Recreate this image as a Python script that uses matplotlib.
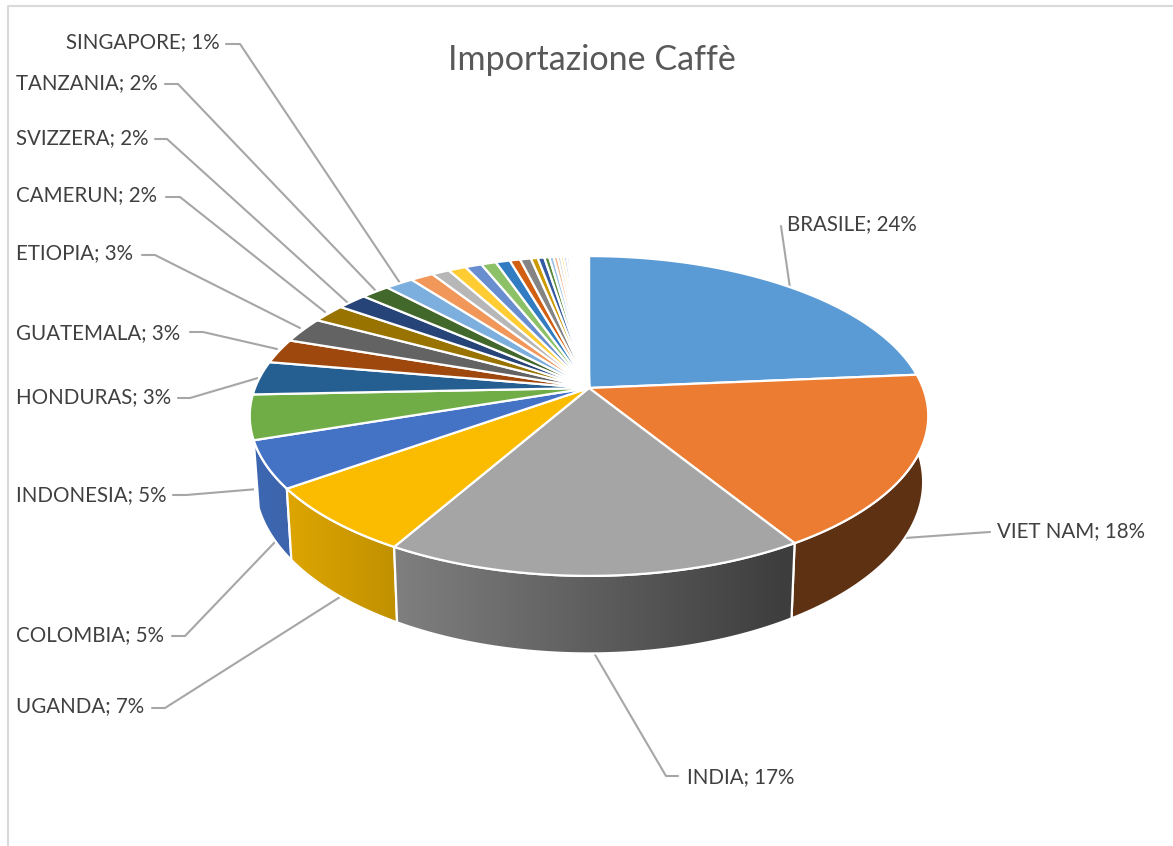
import numpy as np
import matplotlib
matplotlib.use('Agg')
import matplotlib.pyplot as plt
from matplotlib.colors import to_rgb
from matplotlib.patches import Polygon

plt.rcParams['font.family'] = ['Lato', 'DejaVu Sans']

TITLE = 'Importazione Caffè'

# share of each slice in %
values = [23.6, 17.6, 17.0, 6.85, 4.75, 4.5, 3.4, 2.5, 2.6, 1.9, 1.7, 1.6, 1.6,
          1.3, 1.0, 1.0, 0.93, 0.84, 0.8, 0.59, 0.61, 0.39, 0.37, 0.28, 0.25, 0.22, 0.18, 0.17,
          0.16, 0.14, 0.12, 0.11, 0.1, 0.09, 0.08, 0.07, 0.07, 0.06, 0.06, 0.05, 0.05,
          0.04, 0.04, 0.03, 0.03, 0.03, 0.02, 0.02, 0.02, 0.02]
labels = ['BRASILE; 24%', 'VIET NAM; 18%', 'INDIA; 17%', 'UGANDA; 7%', 'COLOMBIA; 5%',
          'INDONESIA; 5%', 'HONDURAS; 3%', 'GUATEMALA; 3%', 'ETIOPIA; 3%', 'CAMERUN; 2%',
          'SVIZZERA; 2%', 'TANZANIA; 2%', 'SINGAPORE; 1%']
colors = ['#5B9BD5', '#EB7C31', '#A5A5A5', '#FBBC00', '#4472C4', '#70AD47',
          '#255E91', '#9E480E', '#636363', '#997300', '#264478', '#43682B',
          '#7CAFDD', '#F1975A', '#B7B7B7', '#FFCD33', '#698ED0', '#8CC168',
          '#327DC2', '#D26012', '#848484', '#CC9A00', '#335AA1', '#5A8B39',
          '#9DC3E6', '#F4B183', '#C9C9C9', '#FFD966', '#8FAADC', '#A9D18E',
          '#BDD7EE', '#F8CBAD', '#DBDBDB', '#FFE699', '#B4C7E7', '#C5E0B4']

# label anchor (left x, centre y) and leader line, all in pixels
label_pos = [(787, 224), (997, 531), (687, 777), (16, 706), (16, 635), (16, 495), (16, 397),
             (16, 333), (16, 253), (16, 195), (16, 138), (16, 83), (66, 42)]
leaders = [[(781, 226), (790, 288)],
           [(990, 532), (975, 533), (905, 538)],
           [(678, 776), (666, 776), (594, 653)],
           [(152, 708), (165, 708), (340, 597)],
           [(172, 636), (185, 636), (275, 542)],
           [(173, 495), (186, 495), (258, 489)],
           [(178, 398), (190, 398), (258, 378)],
           [(190, 332), (203, 332), (277, 349)],
           [(142, 255), (155, 255), (300, 328)],
           [(166, 197), (180, 197), (325, 312)],
           [(155, 139), (167, 139), (348, 303)],
           [(165, 84), (178, 84), (375, 290)],
           [(226, 44), (240, 44), (400, 283)]]

CX, CY = 589, 388      # apex of the pie
AX, AY = 334, 155      # projected radii
PERSP = 0.175          # perspective strength
DEPTH = 64             # thickness of the side
SHRINK = 0.985         # lower rim is a bit narrower


def rim(theta, lower=False):
    # theta clockwise from 12 o'clock, radians
    u, v = np.sin(theta), np.cos(theta)
    w = 1 + PERSP * v
    x = AX * u / w
    y = -AY * v / w
    if lower:
        return CX + SHRINK * x, CY + y + DEPTH / w
    return CX + x, CY + y


def shade(x):
    return np.clip(0.77 - (x - 395) * 0.40 / 394, 0.37, 0.9)


def do_plot():
    fig = plt.figure(figsize=(11.73, 8.46), dpi=100)
    ax = fig.add_axes([0, 0, 1, 1])
    ax.axis('off')

    fracs = np.array(values) / sum(values)
    edges = np.concatenate([[0], np.cumsum(fracs)]) * 2 * np.pi
    cols = [colors[i] if i < len(colors) else '#F4F4F4' for i in range(len(values))]

    # side faces, back to front
    idx = [i for i in range(len(values)) if 80 < np.degrees(edges[i + 1]) and np.degrees(edges[i]) < 275]
    idx.sort(key=lambda i: -abs(np.degrees(edges[i] + edges[i + 1]) / 2 - 180))
    for z, i in enumerate(idx):
        t = np.linspace(edges[i], edges[i + 1], 60)
        xt, yt = rim(t)
        xb, yb = rim(t, lower=True)
        pts = np.column_stack([np.r_[xt, xb[::-1]], np.r_[yt, yb[::-1]]])
        x0, x1 = pts[:, 0].min(), pts[:, 0].max()
        y0, y1 = pts[:, 1].min(), pts[:, 1].max()
        f = shade(np.linspace(x0, x1, 100))
        if i == 1:  # the right hand side face is flat in the reference
            f = np.full(100, 0.40)
        grad = f[None, :, None] * np.array(to_rgb(cols[i]))
        im = ax.imshow(grad, extent=[x0, x1, y1, y0], aspect='auto', zorder=2 + z, interpolation='bilinear')
        poly = Polygon(pts, closed=True, facecolor='none', edgecolor='white', lw=1.6, zorder=2.5 + z)
        ax.add_patch(poly)
        im.set_clip_path(poly)

    # top face
    for i in range(len(values)):
        t = np.linspace(edges[i], edges[i + 1], 80)
        xt, yt = rim(t)
        pts = np.column_stack([np.r_[CX, xt], np.r_[CY, yt]])
        ax.add_patch(Polygon(pts, closed=True, facecolor=cols[i], edgecolor='white', lw=1.6, zorder=100))

    # labels and leaders
    for txt, (lx, ly), line in zip(labels, label_pos, leaders):
        xs, ys = zip(*line)
        ax.plot(xs, ys, color='#A6A6A6', lw=1.5, zorder=1, solid_capstyle='round')
        ax.text(lx, ly, txt, ha='left', va='center', fontsize=14.8, color='#404040', zorder=200)

    ax.text(592, 60, TITLE, ha='center', va='center', fontsize=24.6, color='#595959', zorder=200)

    # chart frame, cut at the right and at the bottom
    ax.plot([8, 8, 1173], [846, 6, 6], color='#D9D9D9', lw=1.5, zorder=1)

    ax.set_xlim(0, 1173)
    ax.set_ylim(846, 0)
    fig.savefig('out.png', dpi=100, facecolor='white')


if __name__ == '__main__':
    do_plot()
